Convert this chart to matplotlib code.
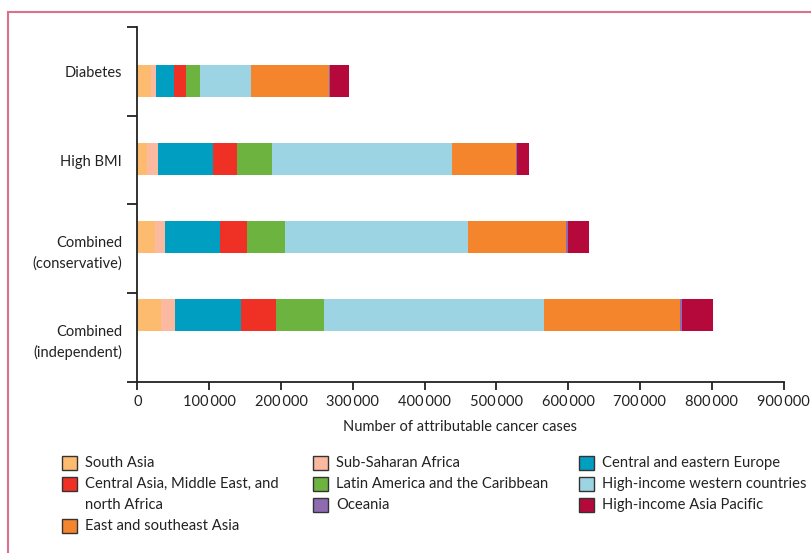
import numpy as np
import matplotlib
matplotlib.use('Agg')
import matplotlib.pyplot as plt
from matplotlib.patches import Rectangle
from matplotlib.ticker import FuncFormatter

plt.rcParams['font.family'] = ['Lato', 'DejaVu Sans']

categories = ['Diabetes', 'High BMI', 'Combined\n(conservative)', 'Combined\n(independent)']
regions = ['South Asia', 'Sub-Saharan Africa', 'Central and eastern Europe',
           'Central Asia, Middle East, and\nnorth Africa', 'Latin America and the Caribbean',
           'High-income western countries', 'East and southeast Asia', 'Oceania',
           'High-income Asia Pacific']
colors = ['#fdbb6f', '#fbb9a0', '#009fc2', '#ee3124', '#6db33f',
          '#9dd4e3', '#f5852c', '#8e6bb1', '#b5093b']

# cases per region, same order as regions
diabetes = [19000, 7000, 25000, 16700, 19500, 71000, 109000, 1000, 26400]
high_bmi = [13800, 14900, 76600, 33400, 48800, 250700, 89100, 1400, 16700]
combined_cons = [24500, 13900, 76600, 37600, 53000, 254800, 136500, 2800, 29300]
combined_indep = [33300, 19200, 91700, 49000, 66500, 306500, 189100, 3200, 43200]

values = np.array([diabetes, high_bmi, combined_cons, combined_indep])

fig = plt.figure(figsize=(8.11, 5.53), dpi=100)
ax = fig.add_axes([0.1694, 0.3092, 0.7967, 0.642])

ypos = 0.61 + 0.88 * np.arange(len(categories))
left = np.zeros(len(categories))
for j in range(len(regions)):
    ax.barh(ypos, values[:, j], left=left, height=0.36, color=colors[j], linewidth=0)
    left += values[:, j]

ax.set_ylim(4, 0)
ax.set_xlim(0, 900000)
ax.set_xticks(np.arange(0, 900001, 100000))
ax.xaxis.set_major_formatter(FuncFormatter(lambda v, p: f'{int(v):,}'.replace(',', '\u2009')))
ax.set_yticks(np.arange(0, 5))
ax.set_yticklabels([])
ax.set_yticks(np.arange(len(categories)) + 0.5, categories, minor=True)
for t in ax.get_yticklabels(minor=True):
    t.set_linespacing(1.55)
ax.tick_params(axis='y', which='minor', length=0, pad=11, labelsize=10.5, colors='#222222')
ax.tick_params(axis='y', which='major', length=7, width=1.3, color='#222222')
ax.tick_params(axis='x', length=6, width=1.3, color='#222222', labelsize=10.5,
               labelcolor='#222222', pad=3)
for s in ['top', 'right']:
    ax.spines[s].set_visible(False)
for s in ['left', 'bottom']:
    ax.spines[s].set_linewidth(1.3)
    ax.spines[s].set_color('#222222')
ax.set_xlabel('Number of attributable cancer cases', fontsize=10.5, color='#222222', labelpad=8)

# legend drawn by hand, three columns
W, H = 811, 553
col_x = [62, 313, 579]
rows_y = [[463, 484, 526], [463, 484, 505], [463, 484, 505]]
order = [[0, 3, 6], [1, 4, 7], [2, 5, 8]]
for c in range(3):
    for r in range(3):
        k = order[c][r]
        y = rows_y[c][r]
        fig.add_artist(Rectangle((col_x[c] / W, 1 - (y + 7) / H), 15 / W, 14 / H,
                                 transform=fig.transFigure, facecolor=colors[k],
                                 edgecolor='#333333', linewidth=1))
        for i, line in enumerate(regions[k].split('\n')):
            fig.text((col_x[c] + 23) / W, 1 - (y + 21 * i) / H, line, fontsize=10.6,
                     color='#222222', ha='left', va='center')

# pink frame
fig.add_artist(Rectangle((8 / W, -0.1), 1.2, 1 - 12 / H + 0.1, transform=fig.transFigure,
                         fill=False, edgecolor='#d9708c', linewidth=1.5))

fig.savefig('out.png', dpi=100)
